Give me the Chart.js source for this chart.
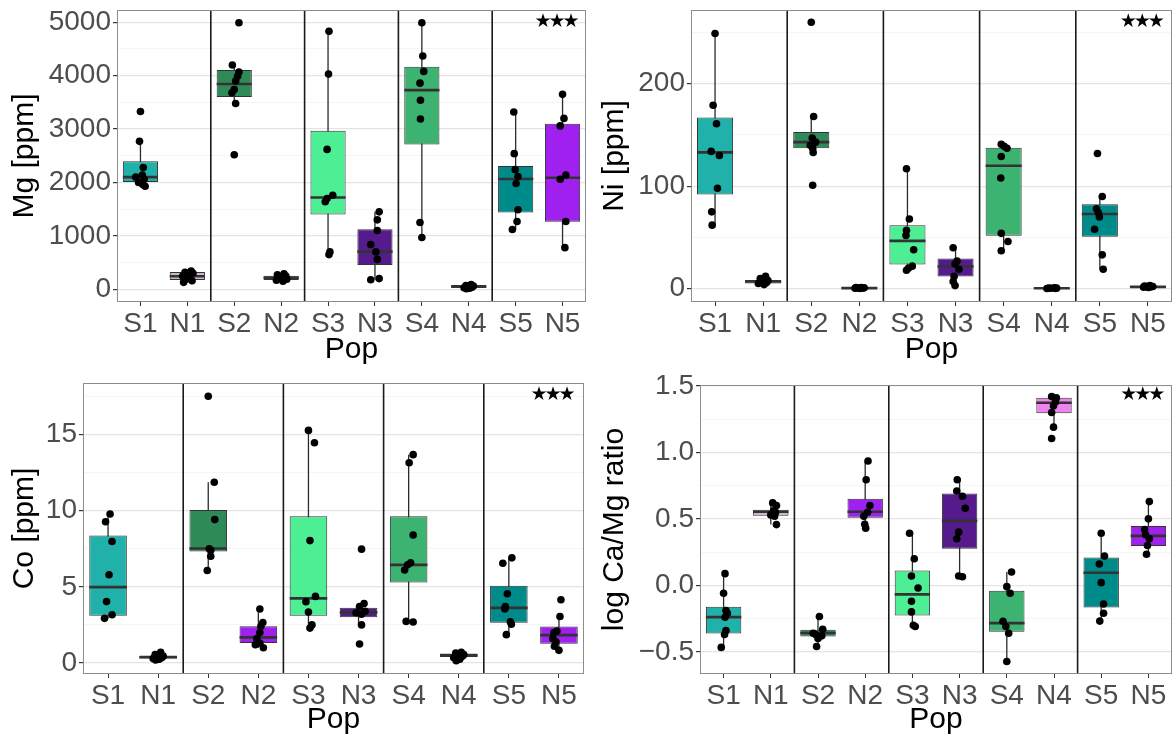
<!DOCTYPE html>
<html>
<head>
<meta charset="utf-8">
<script src="https://cdn.jsdelivr.net/npm/chart.js@4.4.1/dist/chart.umd.min.js"></script>
<style>
  body { margin: 0; background: #fff; }
  #wrap { position: relative; width: 1176px; height: 740px; }
  canvas { position: absolute; }
</style>
</head>
<body>
<div id="wrap">
  <canvas id="mg" width="590" height="370" style="left:0;top:0"></canvas>
  <canvas id="ni" width="586" height="370" style="left:590px;top:0"></canvas>
  <canvas id="co" width="590" height="370" style="left:0;top:370px"></canvas>
  <canvas id="ca" width="586" height="370" style="left:590px;top:370px"></canvas>
</div>
<script>
const pops = ['S1', 'N1', 'S2', 'N2', 'S3', 'N3', 'S4', 'N4', 'S5', 'N5'];
const popColors = ['#20b2aa', '#cdb5cd', '#2e8b57', '#a020f0', '#4eee94', '#551a8b', '#3cb371', '#ee82ee', '#008b8b', '#a020f0'];
const groupBreaks = [1.5, 3.5, 5.5, 7.5];

// Mg
const mgQ1 = [2010, 175, 3600, 175, 1400, 455, 2710, 30, 1440, 1265];
const mgMed = [2100, 245, 3845, 215, 1720, 705, 3730, 50, 2065, 2090];
const mgQ3 = [2400, 325, 4105, 255, 2970, 1125, 4165, 80, 2310, 3100];
const mgLo = [1930, 130, 3480, 150, 650, 180, 970, 10, 1120, 780];
const mgHi = [2770, 340, 4200, 290, 4830, 1450, 4990, 90, 3320, 3650];
const mgPts = [
  [3330, 2770, 2280, 2140, 2100, 2060, 2000, 1960, 1930],
  [340, 320, 300, 280, 250, 220, 190, 160, 130],
  [4990, 4200, 4070, 3990, 3900, 3740, 3680, 3480, 2520],
  [290, 270, 250, 230, 210, 190, 170, 150],
  [4830, 4030, 2620, 1760, 1700, 1640, 700, 650],
  [1450, 1300, 1100, 840, 700, 560, 200, 180],
  [4990, 4370, 4080, 3860, 3540, 3190, 1250, 970],
  [90, 70, 60, 50, 40, 30, 20, 10],
  [3320, 2540, 2240, 2110, 1980, 1490, 1270, 1120],
  [3650, 3200, 3060, 2140, 2060, 1270, 780]
];
const mgJit = [
  [0.0, -0.02, 0.06, 0.04, -0.1, 0.08, -0.04, 0.05, 0.1],
  [0.08, -0.05, 0.12, 0.02, -0.1, 0.06, -0.03, 0.1, -0.08],
  [0.1, -0.04, 0.1, 0.07, 0.03, 0.0, -0.05, 0.03, 0.0],
  [0.06, -0.08, 0.1, 0.02, -0.04, 0.12, -0.1, 0.04],
  [0.02, 0.01, -0.02, 0.1, -0.02, -0.06, 0.04, 0.02],
  [0.09, 0.05, 0.05, -0.09, 0.02, 0.05, 0.09, -0.09],
  [0.0, 0.02, 0.04, -0.04, -0.03, -0.03, -0.04, 0.0],
  [0.05, -0.06, 0.1, -0.02, 0.07, -0.1, 0.02, -0.05],
  [-0.04, -0.03, -0.01, 0.05, 0.01, 0.05, 0.03, -0.07],
  [0.0, 0.03, -0.05, 0.07, -0.05, 0.07, 0.05]
];
const mgTicks = [0, 1000, 2000, 3000, 4000, 5000];
const mgTickLabels = ['0', '1000', '2000', '3000', '4000', '5000'];
const mgMinor = [500, 1500, 2500, 3500, 4500];
const mgRange = [-238, 5230];
const mgStar = 5000;

// Ni
const niQ1 = [92, 5, 137, 0.3, 23.5, 11.8, 51.6, 0.2, 50.7, 1.2];
const niMed = [133, 7, 143, 0.5, 46.7, 21.6, 120, 0.4, 72.9, 1.8];
const niQ3 = [167, 8.5, 153, 0.8, 61.8, 29.4, 137.6, 0.6, 82.4, 2.5];
const niLo = [62, 4, 133, 0.3, 18, 3, 37, 0.2, 19, 1.2];
const niHi = [249, 12, 168, 1.2, 117, 40, 141, 0.8, 90, 3];
const niPts = [
  [249, 179, 161, 134, 130, 98, 75, 62],
  [12, 10, 8, 7, 6, 5, 4],
  [260, 168, 147, 143, 140, 137, 133, 101],
  [1.2, 1.0, 0.8, 0.6, 0.5, 0.4, 0.3],
  [117, 68, 57, 52, 38, 22, 20, 18],
  [40, 27, 24, 19, 12, 7, 3],
  [141, 139, 137, 129, 108, 54, 46, 37],
  [0.8, 0.6, 0.5, 0.4, 0.3, 0.2],
  [132, 90, 78, 74, 70, 58, 33, 19],
  [3.0, 2.5, 2.2, 2.0, 1.8, 1.5, 1.2]
];
const niJit = [
  [0.0, -0.04, 0.03, -0.08, 0.09, 0.05, -0.07, -0.06],
  [0.05, -0.06, 0.1, -0.02, 0.07, -0.1, 0.02],
  [0.0, 0.05, 0.02, 0.09, -0.02, 0.03, 0.04, 0.03],
  [0.04, -0.07, 0.1, -0.03, 0.06, -0.09, 0.01],
  [-0.02, 0.04, -0.02, -0.03, 0.13, 0.1, 0.02, -0.02],
  [-0.05, 0.03, -0.01, 0.07, -0.03, -0.05, -0.01],
  [-0.05, 0.01, 0.07, -0.05, -0.06, -0.05, 0.09, -0.05],
  [0.05, -0.06, 0.1, -0.02, 0.07, -0.1],
  [-0.05, 0.05, -0.07, -0.03, -0.01, -0.11, 0.05, 0.07],
  [0.04, -0.07, 0.1, -0.03, 0.06, -0.09, 0.01]
];
const niTicks = [0, 100, 200];
const niTickLabels = ['0', '100', '200'];
const niMinor = [50, 150, 250];
const niRange = [-13, 272];
const niStar = 260;

// Co
const coQ1 = [3.1, 0.3, 7.31, 1.31, 3.1, 3.01, 5.28, 0.4, 2.64, 1.27];
const coMed = [4.98, 0.38, 7.51, 1.68, 4.24, 3.32, 6.44, 0.5, 3.62, 1.83];
const coQ3 = [8.36, 0.5, 10.04, 2.42, 9.63, 3.62, 9.63, 0.62, 5.07, 2.4];
const coLo = [2.93, 0.2, 6.07, 1.0, 2.29, 2.5, 2.69, 0.15, 1.86, 0.83];
const coHi = [9.78, 0.7, 11.86, 3.54, 15.26, 3.9, 13.67, 0.7, 6.9, 3.05];
const coPts = [
  [9.78, 9.27, 7.97, 5.79, 4.03, 3.17, 2.93],
  [0.7, 0.55, 0.45, 0.4, 0.35, 0.3, 0.25, 0.2],
  [17.5, 11.86, 9.41, 7.5, 7.4, 7.0, 6.07],
  [3.54, 2.66, 2.4, 2.0, 1.6, 1.3, 1.2, 1.0],
  [15.26, 14.45, 8.03, 4.37, 4.02, 3.34, 2.5, 2.29],
  [7.47, 3.9, 3.7, 3.4, 3.3, 3.2, 2.5, 1.25],
  [13.67, 13.14, 8.4, 6.57, 6.44, 6.1, 2.73, 2.69],
  [0.7, 0.65, 0.55, 0.5, 0.45, 0.35, 0.25, 0.15],
  [6.9, 6.55, 4.54, 3.7, 3.55, 2.7, 2.55, 1.86],
  [4.15, 3.05, 2.1, 2.0, 1.6, 1.4, 1.1, 0.83]
];
const coJit = [
  [0.04, -0.05, 0.08, 0.02, -0.03, 0.08, -0.07],
  [0.05, -0.06, 0.1, -0.02, 0.07, -0.1, 0.02, -0.05],
  [0.0, 0.12, 0.13, 0.02, 0.05, 0.05, -0.02],
  [0.03, 0.09, 0.05, 0.03, -0.03, 0.03, -0.06, 0.1],
  [0.0, 0.12, 0.03, 0.14, -0.05, 0.0, 0.07, 0.03],
  [0.06, 0.11, 0.02, 0.13, -0.05, 0.06, 0.06, 0.02],
  [0.09, 0.01, 0.09, 0.04, -0.02, -0.08, -0.05, 0.09],
  [0.05, -0.06, 0.1, -0.02, 0.07, -0.1, 0.02, -0.05],
  [0.06, -0.12, -0.03, -0.07, -0.08, 0.03, 0.05, -0.05],
  [0.04, 0.02, -0.04, -0.1, -0.12, -0.06, -0.09, 0.0]
];
const coTicks = [0, 5, 10, 15];
const coTickLabels = ['0', '5', '10', '15'];
const coMinor = [2.5, 7.5, 12.5, 17.5];
const coRange = [-0.72, 18.37];
const coStar = 17.6;

// log Ca/Mg
const caQ1 = [-0.362, 0.523, -0.384, 0.508, -0.226, 0.276, -0.349, 1.294, -0.166, 0.296];
const caMed = [-0.239, 0.553, -0.359, 0.553, -0.068, 0.485, -0.284, 1.374, 0.095, 0.372];
const caQ3 = [-0.161, 0.568, -0.334, 0.651, 0.111, 0.691, -0.04, 1.412, 0.209, 0.447];
const caLo = [-0.467, 0.457, -0.46, 0.43, -0.309, 0.065, -0.573, 1.19, -0.269, 0.234];
const caHi = [0.088, 0.62, -0.234, 0.935, 0.392, 0.794, 0.1, 1.42, 0.392, 0.63];
const caPts = [
  [0.088, -0.06, -0.19, -0.21, -0.24, -0.34, -0.37, -0.467],
  [0.62, 0.6, 0.56, 0.55, 0.53, 0.52, 0.457],
  [-0.234, -0.33, -0.36, -0.37, -0.38, -0.40, -0.46],
  [0.935, 0.794, 0.6, 0.55, 0.52, 0.46, 0.43],
  [0.392, 0.2, 0.07, -0.02, -0.12, -0.2, -0.3, -0.31],
  [0.794, 0.71, 0.67, 0.58, 0.4, 0.35, 0.07, 0.065],
  [0.1, -0.01, -0.06, -0.27, -0.31, -0.36, -0.573],
  [1.42, 1.41, 1.38, 1.35, 1.3, 1.19, 1.105],
  [0.392, 0.22, 0.16, 0.02, -0.14, -0.21, -0.269],
  [0.63, 0.5, 0.42, 0.38, 0.35, 0.3, 0.234]
];
const caJit = [
  [0.03, 0.0, 0.05, 0.08, 0.03, 0.05, 0.02, -0.05],
  [0.04, 0.12, 0.06, 0.1, 0.0, 0.08, 0.12],
  [0.03, 0.1, -0.1, -0.05, 0.08, 0.0, -0.03],
  [0.06, 0.02, 0.1, 0.05, -0.03, -0.01, 0.01],
  [-0.06, 0.04, -0.02, 0.12, -0.02, -0.02, 0.02, 0.06],
  [-0.05, -0.06, 0.06, 0.12, -0.02, -0.06, -0.02, 0.06],
  [0.1, 0.0, 0.07, -0.08, -0.02, 0.04, 0.0],
  [-0.05, 0.05, 0.03, -0.01, -0.05, -0.01, -0.05],
  [0.0, 0.07, -0.04, 0.0, 0.05, 0.05, -0.03],
  [0.02, 0.0, -0.08, -0.06, 0.02, -0.02, -0.04]
];
const caTicks = [-0.5, 0, 0.5, 1, 1.5];
const caTickLabels = ['\u22120.5', '0.0', '0.5', '1.0', '1.5'];
const caMinor = [-0.25, 0.25, 0.75, 1.25];
const caRange = [-0.667, 1.507];
const caStar = 1.43;

const family = '"Liberation Sans", Arial, Helvetica, sans-serif';

// whiskers, separators, medians, frame and the significance stars
function boxParts(lo, hi, med, starY) {
  return {
    id: 'boxParts',
    beforeDatasetsDraw(chart) {
      const { ctx, chartArea: a } = chart;
      const xs = chart.scales.xp, ys = chart.scales.y;
      ctx.save();
      ctx.beginPath();
      ctx.rect(a.left, a.top, a.width, a.height);
      ctx.clip();
      ctx.strokeStyle = '#1a1a1a';
      ctx.lineWidth = 1.6;
      groupBreaks.forEach(b => {
        const x = xs.getPixelForValue(b);
        ctx.beginPath();
        ctx.moveTo(x, a.top);
        ctx.lineTo(x, a.bottom);
        ctx.stroke();
      });
      ctx.strokeStyle = '#2b2b2b';
      ctx.lineWidth = 1.3;
      lo.forEach((v, i) => {
        const x = xs.getPixelForValue(i);
        ctx.beginPath();
        ctx.moveTo(x, ys.getPixelForValue(hi[i]));
        ctx.lineTo(x, ys.getPixelForValue(v));
        ctx.stroke();
      });
      ctx.restore();
    },
    afterDatasetDraw(chart, args) {
      if (args.meta.type !== 'bar') return;
      const ctx = chart.ctx, ys = chart.scales.y;
      ctx.save();
      ctx.strokeStyle = '#333';
      ctx.lineWidth = 2.6;
      args.meta.data.forEach((bar, i) => {
        const y = ys.getPixelForValue(med[i]);
        ctx.beginPath();
        ctx.moveTo(bar.x - bar.width / 2, y);
        ctx.lineTo(bar.x + bar.width / 2, y);
        ctx.stroke();
      });
      ctx.restore();
    },
    afterDraw(chart) {
      const { ctx, chartArea: a } = chart;
      ctx.save();
      ctx.strokeStyle = '#8c8c8c';
      ctx.lineWidth = 1;
      ctx.strokeRect(Math.round(a.left) + 0.5, Math.round(a.top) + 0.5,
        Math.round(a.width) - 1, Math.round(a.height) - 1);
      ctx.fillStyle = '#000';
      ctx.font = 'bold 19px "DejaVu Sans"';
      ctx.letterSpacing = '-3px';
      ctx.textAlign = 'center';
      ctx.textBaseline = 'middle';
      ctx.fillText('\u2605\u2605\u2605', chart.scales.xp.getPixelForValue(8.85), chart.scales.y.getPixelForValue(starY));
      ctx.restore();
    }
  };
}

function drawPanel(id, yTitle, q1, med, q3, lo, hi, pts, jit, ticks, tickLabels, minor, range, starY, box) {
  const points = [];
  pts.forEach((vals, i) => vals.forEach((v, k) => points.push({ x: i + jit[i][k], y: v })));
  const allTicks = ticks.concat(minor).sort((a, b) => a - b);

  new Chart(document.getElementById(id), {
    type: 'bar',
    data: {
      labels: pops,
      datasets: [
        {
          type: 'scatter',
          xAxisID: 'xp',
          data: points,
          pointRadius: 3.8,
          pointBackgroundColor: '#000',
          pointBorderWidth: 0,
          order: 1
        },
        {
          type: 'bar',
          xAxisID: 'x',
          data: q1.map((v, i) => [v, q3[i]]),
          backgroundColor: popColors,
          borderColor: '#333',
          borderWidth: 1,
          borderSkipped: false,
          grouped: false,
          barPercentage: 0.75,
          categoryPercentage: 1,
          order: 2
        }
      ]
    },
    options: {
      responsive: false,
      animation: false,
      devicePixelRatio: 1,
      layout: { padding: { top: box.top, right: box.right, bottom: 0, left: 0 } },
      plugins: { legend: { display: false }, tooltip: { enabled: false } },
      scales: {
        x: {
          type: 'category',
          offset: true,
          border: { display: false },
          grid: { offset: false, drawOnChartArea: false, tickColor: '#333', tickLength: 4 },
          ticks: { autoSkip: false, maxRotation: 0, padding: 1, color: '#4d4d4d', font: { family, size: 28 } },
          title: { display: true, text: 'Pop', color: '#000', font: { family, size: 30 }, padding: { top: 0, bottom: 2 } },
          afterFit: s => { s.height = box.xh; s.paddingLeft = 0; s.paddingRight = 0; }
        },
        xp: { type: 'linear', offset: false, min: -0.5, max: 9.5, display: false },
        y: {
          type: 'linear',
          min: range[0],
          max: range[1],
          afterBuildTicks: s => { s.ticks = allTicks.map(v => ({ value: v })); },
          border: { display: false },
          grid: {
            color: c => ticks.includes(c.tick.value) ? '#e4e4e4' : '#f2f2f2',
            lineWidth: c => ticks.includes(c.tick.value) ? 1.2 : 0.8,
            tickColor: c => ticks.includes(c.tick.value) ? '#333' : 'rgba(0,0,0,0)',
            tickLength: 4
          },
          ticks: {
            autoSkip: false,
            padding: 2,
            color: '#4d4d4d',
            font: { family, size: 28 },
            callback: v => { const k = ticks.indexOf(v); return k >= 0 ? tickLabels[k] : ''; }
          },
          title: { display: true, text: yTitle, color: '#000', font: { family, size: 30 }, padding: { top: 7, bottom: 0 } },
          afterFit: s => { s.width = box.yw; s.paddingTop = 0; s.paddingBottom = 0; }
        }
      }
    },
    plugins: [boxParts(lo, hi, med, starY)]
  });
}

drawPanel('mg', 'Mg [ppm]', mgQ1, mgMed, mgQ3, mgLo, mgHi, mgPts, mgJit, mgTicks, mgTickLabels, mgMinor, mgRange, mgStar,
  { yw: 117, top: 10, right: 4, xh: 68 });
drawPanel('ni', 'Ni [ppm]', niQ1, niMed, niQ3, niLo, niHi, niPts, niJit, niTicks, niTickLabels, niMinor, niRange, niStar,
  { yw: 101, top: 10, right: 2, xh: 68 });
drawPanel('co', 'Co [ppm]', coQ1, coMed, coQ3, coLo, coHi, coPts, coJit, coTicks, coTickLabels, coMinor, coRange, coStar,
  { yw: 83, top: 13, right: 6, xh: 66 });
drawPanel('ca', 'log Ca/Mg ratio', caQ1, caMed, caQ3, caLo, caHi, caPts, caJit, caTicks, caTickLabels, caMinor, caRange, caStar,
  { yw: 110, top: 15, right: 2, xh: 66 });
</script>
</body>
</html>
